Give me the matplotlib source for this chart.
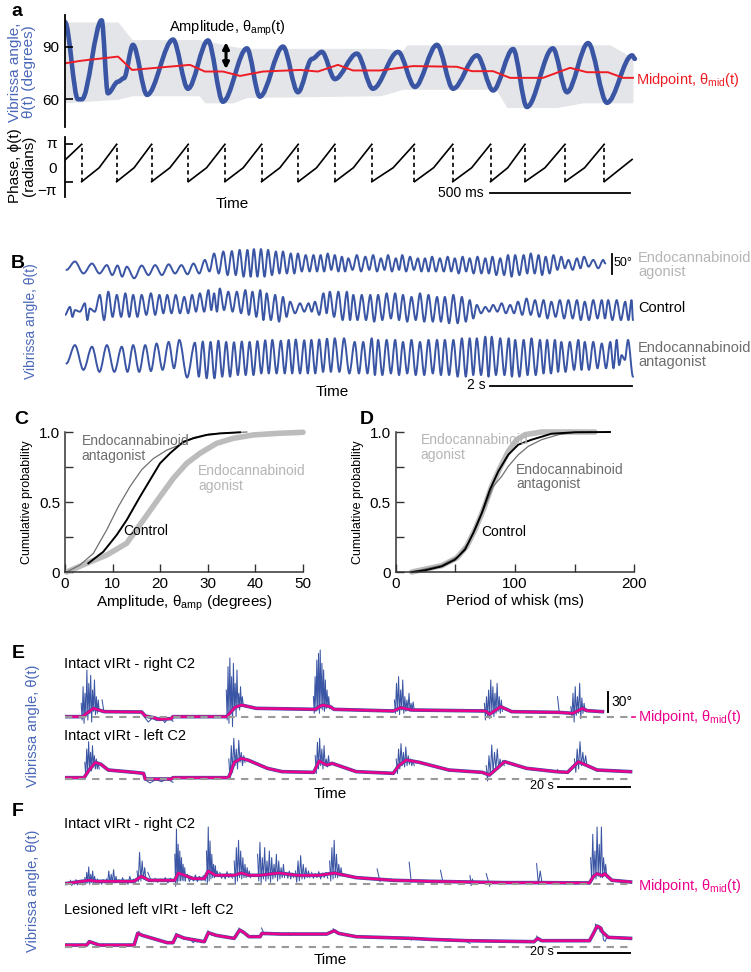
import numpy as np
import matplotlib.pyplot as plt
from matplotlib.path import Path
from matplotlib.patches import PathPatch

plt.rcParams['font.family'] = ['Liberation Sans', 'DejaVu Sans']
plt.rcParams['mathtext.fontset'] = 'custom'
plt.rcParams['mathtext.rm'] = 'Liberation Sans'
plt.rcParams['mathtext.it'] = 'Liberation Sans'

BLUE = '#3a55a4'
LBLUE = '#4a68b8'
RED = '#ee1c24'
MAG = '#ec008c'
DGRAY = '#6d6d6d'
LGRAY = '#b5b5b5'

# ---------------- panel a data (time in ms, angle in degrees) ----------------
theta_t = [0, 46, 60, 130, 152, 188, 209, 241, 291, 383, 436, 507, 560, 645, 691, 773,
           826, 876, 911, 957, 1035, 1092, 1181, 1241, 1319, 1376, 1461, 1518, 1589,
           1638, 1730, 1780, 1855, 1922, 2011, 2021]
theta_v = [104, 60, 60, 105, 63.4, 70, 72, 91, 62.5, 94, 66, 93.5, 58.6, 89, 61.5, 90,
           64, 83, 87, 71.5, 86, 66, 87, 67, 91, 66, 85, 65, 88.6, 55.6, 89, 64, 92, 58,
           85, 83]
mid_t = [0, 60, 188, 238, 443, 496, 560, 621, 702, 833, 897, 968, 1021, 1117, 1234,
         1390, 1443, 1518, 1578, 1695, 1791, 1851, 1925, 1979, 2014]
mid_v = [80.5, 82, 84.3, 76.7, 79.6, 75.8, 75.8, 73.3, 75.8, 76.7, 75.8, 79.6, 76.4,
         76.4, 78.9, 78.5, 76, 76, 72.2, 72.2, 77.9, 75.4, 75.4, 72.2, 72.2]
band_t = [0, 188, 238, 475, 496, 596, 645, 1120, 1198, 1213, 1528, 1567, 1745, 1837,
          1933, 2014]
band_hi = [104, 104, 94, 94, 93.5, 90, 89, 89, 88, 91, 91, 91, 91, 91, 91, 83.5]
band_lo = [58, 60, 62, 62, 58, 58, 61, 62, 65.7, 65.7, 65.7, 55.3, 55.3, 58, 58, 58]
phase_resets = [59, 183, 307, 437, 567, 697, 827, 957, 1088, 1239, 1375, 1509, 1631,
                1773, 1912]
phase_start = 0.5
phase_end = 0.6
phase_end_t = 2011
phase_kink = -0.8

# ---------------- panel B data (time in s, angle in degrees) ----------------
ago_pt = [0.14, 0.38, 0.59, 0.74, 0.87, 1.08, 1.27, 1.46, 1.64, 1.81, 1.97, 2.10, 2.23,
          2.35, 2.46, 2.57, 2.66, 2.76, 2.86, 2.97, 3.07, 3.18, 3.28, 3.39, 3.50, 3.60,
          3.70, 3.80, 3.90, 3.99, 4.11, 4.23, 4.34, 4.45, 4.55, 4.66, 4.75, 4.86, 4.97,
          5.07, 5.17, 5.28, 5.39, 5.49, 5.60, 5.70, 5.81, 5.92, 6.02, 6.13, 6.24, 6.34,
          6.46, 6.56, 6.67, 6.77, 6.88, 6.99, 7.09, 7.21, 7.31, 7.44, 7.58]
ago_pv = [42, 37, 33, 32, 29, 32, 33, 35, 33, 37, 46,
          62, 67, 68, 71, 71, 73, 73, 71, 67, 67, 62, 62, 58, 58, 58, 62, 58, 54, 50,
          58, 54, 58, 50, 58, 50, 58, 54, 50, 50, 54, 50, 54, 50, 54, 50, 54, 50, 54, 50,
          58, 58, 58, 62, 58, 54, 58, 54, 46, 50, 54, 46, 46]
ago_tv = [12, 12, 8, 4, 0, 8, 8, 12, 10, 12, 17,
          12, 8, 8, 4, 4, 4, 4, 8, 12, 12, 12, 17, 17, 17, 17, 21, 17, 17, 21,
          17, 21, 17, 21, 17, 21, 17, 21, 17, 17, 17, 17, 17, 12, 17, 12, 12, 12, 8, 8,
          4, 8, 12, 12, 8, 12, 21, 25, 21, 25, 29, 25]
ago_ends = [(0.02, 21), (7.61, 37)]

ctl_pt = [0.07, 0.14, 0.28, 0.35, 0.49, 0.61, 0.73, 0.85, 0.96, 1.08, 1.21, 1.33, 1.44,
          1.56, 1.68, 1.79, 1.90, 2.02, 2.10, 2.18, 2.30, 2.42, 2.54, 2.64, 2.75, 2.84,
          2.96, 3.07, 3.17, 3.31, 3.43, 3.52, 3.64, 3.73, 3.85, 3.97, 4.06, 4.18, 4.30,
          4.41, 4.53, 4.65, 4.76, 4.88, 5.00, 5.12, 5.24, 5.35, 5.47, 5.59, 5.70, 5.80,
          5.92, 6.03, 6.15, 6.27, 6.38, 6.50, 6.62, 6.74, 6.85, 6.97, 7.09, 7.21, 7.32,
          7.44, 7.56, 7.65, 7.77, 7.89, 7.98]
ctl_pv = [37, 29, 46, 33, 67, 75, 67, 71, 67, 67, 71, 67, 67, 67, 62, 67, 71, 79, 71,
          83, 75, 75, 79, 75, 79, 71, 67, 62, 50, 46, 46, 50, 71, 75, 75, 75,
          67, 67, 67, 67, 71, 71, 67, 62, 71, 67, 62, 62, 67, 62, 54, 42, 37, 42, 46,
          42, 50, 58, 54, 54, 50, 54, 54, 54, 50, 54, 54, 54, 54, 50, 54]
ctl_tv = [12, 25, 4, 25, 4, 12, 12, 12, 12, 17, 17, 21, 21, 21, 21, 25, 25, 29, 25, 29,
          25, 21, 17, 12, 4, 4, 0, 12, 21, 25, 25, 17, 21, 12, 4,
          4,
          4, 4, 0, 4, 8, 4, 0, 4, 0, 0, 0, -4, -4, 0, 8, 21, 25, 25, 21, 21, 17, 17, 12,
          8, 12, 8, 8, 4, 4, 8, 8, 4, 4, 4]
ctl_ends = [(0.0, 17), (8.0, 4)]

ant_pt = [0.14, 0.38, 0.59, 0.80, 0.96, 1.13, 1.29, 1.46, 1.61, 1.83, 1.94, 2.05, 2.16,
          2.27, 2.38, 2.49, 2.60, 2.71, 2.82, 2.92, 3.04, 3.15, 3.25, 3.37, 3.47, 3.58,
          3.69, 3.80, 3.93, 4.08, 4.20, 4.32, 4.41, 4.53, 4.65, 4.76, 4.88, 5.00, 5.12,
          5.24, 5.35, 5.47, 5.59, 5.70, 5.80, 5.92, 6.01, 6.13, 6.25, 6.34, 6.46, 6.57,
          6.69, 6.79, 6.90, 6.99, 7.11, 7.23, 7.32, 7.44, 7.56, 7.68, 7.77, 7.84, 7.93]
ant_pv = [79, 75, 79, 75, 79, 79, 83, 87, 92,
          85, 88, 87, 90, 87, 86, 88, 87, 89, 91, 92, 90, 92, 93, 91, 92, 93, 95, 96,
          96, 87, 87, 96, 92, 92, 92, 87, 92, 87, 92, 92, 92, 92, 96, 96, 96, 100, 100,
          96, 96, 92, 92, 96, 92, 92, 92, 87, 87, 92, 87, 87, 83, 87, 92, 54, 92]
ant_tv = [17, 12, 12, 12, 12, 14, 17, 21,
          -2,
          0, -4, -4, 0, 0, 4, 4, 4, 8, 8, 8, 8, 8, 8, 8, 8, 12, 12,
          12,
          8, 8, 8, 4, 4, 8, 4, 8, 4, 4, 8, 4, 4, 0, 0, 4, 4, 0, 4, 4, 0, 0, 4, 4, 8, 8,
          12, 12, 17, 17, 17, 21, 21, 21, 29, 42]
ant_ends = [(0.02, 33), (8.0, 0)]

# ---------------- panels C, D data (cumulative probability) ----------------
amp_ant_x = [0.35, 3.15, 5.95, 8.75, 11.2, 13.65, 16.1, 18.55, 21.36, 24.2, 26.96, 30.5, 38.2]
amp_ant_p = [0, 0.05, 0.133, 0.30, 0.467, 0.61, 0.73, 0.81, 0.87, 0.91, 0.96, 0.986, 1.0]
amp_ctl_x = [4.9, 8.05, 10.85, 12.96, 15.76, 17.86, 19.96, 22.06, 24.85, 26.96, 29.76,
             32.56, 36.76]
amp_ctl_p = [0.062, 0.145, 0.264, 0.371, 0.538, 0.657, 0.776, 0.848, 0.93, 0.955, 0.979,
             0.99, 0.998]
amp_ago_x = [0.35, 4.55, 8.75, 12.96, 16.46, 19.96, 22.76, 25.56, 28.36, 31.86, 35.36,
             39.56, 44.5, 50]
amp_ago_p = [0, 0.062, 0.121, 0.205, 0.371, 0.538, 0.669, 0.776, 0.848, 0.919, 0.955,
             0.979, 0.99, 0.998]

per_ctl_x = [13.4, 24.6, 38.5, 49.7, 58.1, 65.1, 72.1, 79, 86, 94.4, 102.8, 114, 130.7,
             150.3, 179.6]
per_ctl_p = [0, 0.012, 0.04, 0.088, 0.16, 0.28, 0.42, 0.588, 0.719, 0.838, 0.91, 0.945,
             0.988, 0.998, 1.0]
per_ago_x = [13.4, 38.5, 51.1, 59.5, 66.5, 73.5, 80.4, 87.4, 94.4, 101.4, 108.4, 122.3, 167]
per_ago_p = [0, 0.045, 0.1, 0.183, 0.302, 0.445, 0.612, 0.743, 0.862, 0.945, 0.981, 1.0, 1.0]
per_ant_x = [13.4, 38.5, 52.5, 60.9, 67.9, 74.9, 81.8, 88.8, 94.4, 102.8, 111.2, 122.3,
             136.3, 150.3, 164.2]
per_ant_p = [0, 0.048, 0.112, 0.207, 0.326, 0.469, 0.612, 0.683, 0.755, 0.838, 0.898,
             0.945, 0.981, 0.998, 1.0]

# ---------------- panels E, F data (time in s, degrees above baseline) ----------------
e1_mid_t = [0, 4.8, 5.8, 7.9, 10.9, 21.3, 22.3, 25, 26, 29.5, 30, 44.9, 45.4, 47.2, 49,
            53.1, 69.6, 70.6, 71.6, 73.7, 74.7, 91.2, 93.2, 96.4, 116.9, 117.9, 121,
            124.1, 137, 141.1, 143.7, 145, 149.3]
e1_mid_v = [0, 0, 4, 12.5, 7.5, 7, 1, -2, -4, -3, 0, 0, 3, 14, 17.5, 12.5, 11, 15, 17.5,
            15, 11, 8.5, 13.5, 10, 8.5, 3.5, 15, 7.5, 6.5, 5, 12.5, 9, 7.5]
e1_bursts = [
    (4.5, 9.5, [20, 45, 35, 70, 50, 62, 40, 55, 30, 25], [-5, -10, 0, -5, 5, -8, 8, 3, 5, 8]),
    (10.3, 10.8, [25], [8]),
    (22.0, 30.0, [0, -2, 0, -1], [-8, -6, -9, -7]),
    (44.8, 49.5, [40, 75, 88, 60, 80, 50, 70, 35, 45, 30], [-5, -10, 5, -15, 10, 0, 15, 10, 15, 18]),
    (69.0, 73.5, [30, 60, 85, 95, 100, 80, 70, 55, 40, 30], [5, 8, 10, 5, 12, 10, 8, 12, 15, 12]),
    (91.5, 97.0, [25, 50, 60, 40, 55, 30, 25, 35, 20, 22], [5, 8, 3, 10, 5, 8, 10, 8, 10, 10]),
    (116.5, 121.5, [20, 30, 40, 55, 45, 35, 50, 30, 25], [-5, 0, -3, 5, 0, 5, 8, 5, 8]),
    (136.8, 137.3, [30], [6]),
    (140.5, 144.5, [15, 35, 45, 30, 50, 28, 20], [0, -8, 2, 5, -3, 5, 8]),
]
e2_mid_t = [0, 5.3, 6.5, 8.4, 10, 12, 19.2, 21.8, 22.3, 29.5, 30, 45.4, 45.9, 47, 49, 51,
            56.2, 60.3, 69.1, 70.6, 72.7, 74.2, 80.9, 91.2, 92.7, 94.8, 98.4, 106.6,
            115.9, 117.9, 122.1, 128.2, 136.5, 139.6, 142.6, 147.8, 157.1]
e2_mid_v = [2, 2, 12, 25, 22, 13.5, 10, 8.5, 0, 0, 2, 2, 8, 25, 31, 28, 16, 11, 10, 27,
            21, 23.5, 11, 8.5, 20, 28.5, 25, 13.5, 10, 6, 26, 16, 11, 10, 26, 13.5, 11]
e2_bursts = [
    (5.5, 9.5, [25, 45, 56, 40, 50, 35, 30, 25], [5, 10, 15, 12, 18, 15, 15, 15]),
    (22.0, 30.0, [0, -1, 0], [-6, -4, -5]),
    (45.5, 50.0, [30, 50, 61, 45, 58, 40, 35], [0, 10, 20, 15, 25, 20, 25]),
    (69.5, 73.5, [35, 55, 61, 45, 50, 30, 35], [8, 15, 20, 15, 20, 18, 20]),
    (92.0, 97.0, [30, 45, 53, 40, 48, 35, 30, 28], [8, 15, 20, 18, 20, 22, 20, 20]),
    (117.0, 122.0, [20, 35, 51, 40, 45, 30, 28], [-3, 5, 10, 15, 15, 20, 20]),
    (136.8, 137.3, [14], [10]),
    (141.5, 145.0, [30, 45, 56, 40, 35], [10, 15, 20, 20, 20]),
]
f1_mid_t = [0, 6.8, 8.9, 19.2, 21.2, 23.3, 30.5, 31.5, 35.6, 38.7, 39.8, 41.8, 47, 49,
            51.1, 54.2, 59.3, 64.4, 70.6, 74.8, 80.9, 91.2, 101.5, 111.8, 122.1, 132.4,
            145.7, 146.8, 147.8, 149.3, 149.9, 151.9, 157.1]
f1_mid_v = [1, 6, 4.5, 4.5, 12, 6, 6, 17, 8.5, 8.5, 20, 13.5, 13.5, 17, 13.5, 13.5, 17,
            13.5, 13.5, 17, 10, 6, 4.5, 3.5, 2.5, 2.5, 2, 12, 16, 13, 16, 6, 3.5]
f1_bursts = [
    (1.5, 5.0, [6, 4, 7, 3, 6], [-2, 0, -1, 0, -1]),
    (5.5, 8.5, [10, 18, 26, 15, 20, 12], [0, 2, 0, 3, 2, 3]),
    (9.0, 11.0, [8, 5, 7], [1, 0, 2]),
    (11.5, 14.5, [8, 20, 15, 22, 12], [2, 1, 3, 2, 3]),
    (15.0, 19.5, [7, 10, 6, 12, 8], [1, 2, 0, 2, 2]),
    (20.0, 22.5, [20, 48, 35, 25], [4, 5, 8, 6]),
    (23.0, 24.0, [18], [4]),
    (25.0, 30.0, [9, 8, 10, 9], [3, 4, 2, 4]),
    (30.5, 33.5, [45, 83, 60, 50, 40, 30, 25], [-3, 0, 5, 5, 6, 5, 5]),
    (34.0, 39.0, [15, 12, 14, 12, 13], [4, 5, 4, 6, 5]),
    (39.3, 42.5, [50, 86, 65, 45, 30, 28, 20], [0, 5, 8, 10, 10, 12, 12]),
    (43.0, 46.5, [18, 15, 19, 16], [9, 8, 10, 9]),
    (47.0, 51.5, [35, 55, 66, 50, 40, 30, 25, 20], [0, 5, 10, 8, 10, 10, 12, 10]),
    (53.5, 61.0, [45, 63, 40, 55, 35, 50, 40, 30, 45, 35, 25, 30], [5, 2, 8, 5, 8, 3, 8, 10, 5, 8, 10, 10]),
    (61.5, 63.5, [18, 20, 17], [9, 8, 10]),
    (64.0, 68.0, [20, 35, 43, 30, 25, 20], [3, 5, 8, 8, 10, 10]),
    (68.5, 73.0, [18, 16, 19, 17, 18], [9, 10, 8, 10, 9]),
    (73.5, 77.0, [35, 55, 66, 45, 30, 25], [5, 8, 10, 10, 12, 12]),
    (86.7, 87.5, [23], [4]),
    (95.6, 96.2, [33], [3]),
    (104.3, 105.0, [21], [3]),
    (112.5, 113.5, [13, 8], [-2, 0]),
    (117.0, 118.0, [16], [-3]),
    (131.0, 132.5, [31, 20], [0, 2]),
    (146.0, 150.5, [40, 75, 50, 86, 60, 86, 40, 30], [5, 10, 8, 12, 10, 10, 15, 10]),
]
f2_mid_t = [0, 6, 6.8, 9.5, 19.2, 20.2, 21.5, 28.4, 30, 31, 33, 38.7, 39.8, 42, 47, 48.5,
            49.5, 51.1, 54.2, 54.7, 60, 72.7, 74.8, 76, 80.9, 96.4, 101.5, 111.8, 130.3,
            131.3, 132.4, 145.7, 146.8, 147.8, 148.8, 149.3, 150.9, 157.1]
f2_mid_v = [2.5, 2.5, 7.5, 2.5, 2.5, 20, 17, 6, 6, 17.5, 13, 7.5, 21, 17, 12.5, 25, 22,
            15, 15, 20, 19, 19, 24, 20, 15, 12.5, 11, 9, 7.5, 12.5, 9, 9, 20, 31, 28, 22,
            14, 12.5]
f2_bursts = [
    (6.5, 7.2, [9], [5]),
    (20.5, 21.3, [23], [16]),
    (30.8, 31.6, [20], [15]),
    (35.0, 38.0, [10, 9, 11], [6, 7, 6]),
    (39.7, 40.6, [24], [18]),
    (48.3, 49.0, [28], [21]),
    (54.6, 55.4, [28], [18]),
    (62.0, 62.6, [21], [17]),
    (74.5, 75.5, [27], [20]),
    (95.5, 96.2, [14], [10]),
    (111.0, 112.5, [9], [5]),
    (131.0, 131.8, [16], [9]),
    (147.3, 150.5, [34, 30, 28, 8], [26, 22, 10, 14]),
]

# ---------------- figure ----------------
W, H = 751, 972
fig = plt.figure(figsize=(W / 100, H / 100), dpi=100)


def px_axes(l, t, r, b):
    ax = fig.add_axes([l / W, 1 - b / H, (r - l) / W, (b - t) / H])
    ax.patch.set_alpha(0)
    return ax


def ftext(x, y, s, **kw):
    kw.setdefault('va', 'center')
    return fig.text(x / W, 1 - y / H, s, **kw)


def bare(ax):
    for sp in ax.spines.values():
        sp.set_visible(False)
    ax.set_xticks([])
    ax.set_yticks([])


def zigzag(t, peaks, troughs, ends):
    tt = [ends[0][0]]
    vv = [ends[0][1]]
    for i, p in enumerate(peaks):
        tt.append(t[i])
        vv.append(p)
        if i < len(troughs):
            tt.append(0.5 * (t[i] + t[i + 1]))
            vv.append(troughs[i])
    tt.append(ends[1][0])
    vv.append(ends[1][1])
    return np.array(tt), np.array(vv)


def smooth_patch(t, v, **kw):
    # bezier through the turning points, flat tangent at each one
    verts = [(t[0], v[0])]
    codes = [Path.MOVETO]
    for i in range(len(t) - 1):
        dt = t[i + 1] - t[i]
        verts += [(t[i] + dt / 3, v[i]), (t[i + 1] - dt / 3, v[i + 1]), (t[i + 1], v[i + 1])]
        codes += [Path.CURVE4] * 3
    return PathPatch(Path(verts, codes), fill=False, capstyle='round', joinstyle='round', **kw)


def burst_line(b, offset):
    t0, t1, pk, tr = b
    vals = []
    for p, q in zip(pk, tr):
        vals += [p, q]
    ts = np.linspace(t0, t1, len(vals))
    return ts, np.array(vals) + offset


# ----- panel a: angle -----
ms_per_px = 500 / 141
ax = px_axes(65, 15, 640, 127)
ax.fill_between(band_t, band_lo, band_hi, color='#e3e5e8', lw=0)
ax.add_patch(smooth_patch(theta_t, theta_v, ec=BLUE, lw=3.3))
ax.plot(mid_t, mid_v, color=RED, lw=1.4)
ax.annotate('', xy=(571, 92.5), xytext=(571, 77.2),
            arrowprops=dict(arrowstyle='<|-|>', color='k', lw=2.2, mutation_scale=9,
                            shrinkA=0, shrinkB=0))
ax.set_xlim(0, 575 * ms_per_px)
ax.set_ylim(44.2, 108)
for s in ['top', 'right', 'bottom']:
    ax.spines[s].set_visible(False)
ax.spines['left'].set_linewidth(1.3)
ax.set_xticks([])
ax.set_yticks([60, 90])
ax.tick_params(axis='y', direction='in', length=6, width=1.2, labelsize=11, pad=4)
ftext(227, 28, 'Amplitude, θ$_{\\mathrm{amp}}$(t)', ha='center', fontsize=10.5)
ftext(636, 80, 'Midpoint, θ$_{\\mathrm{mid}}$(t)', ha='left', fontsize=10.5, color=RED)
ftext(22, 72, 'Vibrissa angle,\nθ(t) (degrees)', ha='center', rotation=90,
      fontsize=11, color=LBLUE, linespacing=1.0)

# ----- panel a: phase -----
axp = px_axes(65, 137, 640, 197)
axp.plot([0, phase_resets[0]], [phase_start, np.pi], color='k', lw=1.2)
for a0, a1 in zip(phase_resets[:-1], phase_resets[1:]):
    axp.plot([a0, 0.5 * (a0 + a1), a1], [-np.pi, phase_kink, np.pi], color='k', lw=1.2)
axp.plot([phase_resets[-1], phase_end_t], [-np.pi, phase_end], color='k', lw=1.2)
axp.vlines(phase_resets, -np.pi, np.pi, colors='k', lw=1.2, linestyles=(0, (2.5, 2)))
axp.set_xlim(0, 575 * ms_per_px)
axp.set_ylim(-5.71, 4.37)
for s in ['top', 'right', 'bottom']:
    axp.spines[s].set_visible(False)
axp.spines['left'].set_linewidth(1.3)
axp.set_xticks([])
axp.set_yticks([np.pi, -np.pi])
axp.set_yticklabels([])
axp.tick_params(axis='y', direction='in', length=6, width=1.2)
ftext(57, 144, 'π', ha='right', fontsize=11)
ftext(57, 169, '0', ha='right', fontsize=11)
ftext(57, 191, '−π', ha='right', fontsize=11)
axp.plot([(490 - 65) * ms_per_px, (630 - 65) * ms_per_px], [-5.04, -5.04], color='k',
         lw=1.3, clip_on=False)
ftext(484, 193, '500 ms', ha='right', fontsize=10)
ftext(232, 204, 'Time', ha='center', fontsize=11)
ftext(22, 166, 'Phase, ϕ(t)\n(radians)', ha='center', rotation=90, fontsize=11,
      linespacing=1.0)
ftext(11, 11, 'a', fontsize=14, fontweight='bold')

# ----- panel B -----
axb = px_axes(65, 248, 640, 385)
for pt, pv, tv, ends, off in [(ago_pt, ago_pv, ago_tv, ago_ends, 246),
                               (ctl_pt, ctl_pv, ctl_tv, ctl_ends, 137.5),
                               (ant_pt, ant_pv, ant_tv, ant_ends, 0)]:
    tt, vv = zigzag(pt, pv, tv, ends)
    axb.add_patch(smooth_patch(tt, vv + off, ec=BLUE, lw=1.4))
axb.set_xlim(0, 575 / 71)
axb.set_ylim(-20.75, 321.75)
bare(axb)
axb.plot([(612 - 65) / 71] * 2, [258, 308], color='k', lw=1.3)
ftext(614, 263, '50°', ha='left', fontsize=9)
axb.plot([(490 - 65) / 71, (632 - 65) / 71], [-23, -23], color='k', lw=1.3,
         clip_on=False)
ftext(486, 385, '2 s', ha='right', fontsize=10)
ftext(332, 392, 'Time', ha='center', fontsize=11)
ftext(638, 265, 'Endocannabinoid\nagonist', ha='left', fontsize=10.5, color=LGRAY,
      linespacing=1.05)
ftext(638, 308, 'Control', ha='left', fontsize=10.5)
ftext(638, 355, 'Endocannabinoid\nantagonist', ha='left', fontsize=10.5, color=DGRAY,
      linespacing=1.05)
ftext(31, 321, 'Vibrissa angle, θ(t)', ha='center', rotation=90, fontsize=10,
      color=LBLUE)
ftext(11, 264, 'B', fontsize=14, fontweight='bold')


# ----- panels C and D -----
def cdf_axes(l, r):
    a = px_axes(l, 432, r, 572)
    a.set_ylim(0, 1)
    a.spines['top'].set_visible(False)
    a.spines['right'].set_visible(False)
    for s in ['left', 'bottom']:
        a.spines[s].set_color('#333333')
        a.spines[s].set_linewidth(1.1)
    a.set_yticks([0, 0.5, 1.0])
    a.set_yticklabels(['0', '0.5', '1.0'])
    a.set_yticks([0.25, 0.75], minor=True)
    a.tick_params(which='both', direction='in', length=6, width=1, labelsize=11,
                  color='#333333')
    a.set_ylabel('Cumulative probability', fontsize=9, labelpad=4)
    return a


axc = cdf_axes(65, 303)
axc.plot(amp_ago_x, amp_ago_p, color='#bcbcbc', lw=4, clip_on=False,
         solid_capstyle='round')
axc.plot(amp_ant_x, amp_ant_p, color='#707070', lw=0.9, clip_on=False)
axc.plot(amp_ctl_x, amp_ctl_p, color='k', lw=1.4, clip_on=False)
axc.set_xlim(0, 50)
axc.set_xticks([0, 10, 20, 30, 40, 50])
axc.text(3.5, 0.985, 'Endocannabinoid\nantagonist', color=DGRAY, fontsize=10, va='top',
         linespacing=1.05)
axc.text(28, 0.77, 'Endocannabinoid\nagonist', color=LGRAY, fontsize=10, va='top',
         linespacing=1.05)
axc.text(12.3, 0.29, 'Control', color='k', fontsize=10, va='center')
axc.set_xlabel('Amplitude, θ$_{\\mathrm{amp}}$ (degrees)', fontsize=11, labelpad=2)
ftext(14, 419, 'C', fontsize=14, fontweight='bold')

axd = cdf_axes(395.7, 634.3)
axd.plot(per_ago_x, per_ago_p, color='#bcbcbc', lw=4, clip_on=False,
         solid_capstyle='round')
axd.plot(per_ant_x, per_ant_p, color='#707070', lw=0.9, clip_on=False)
axd.plot(per_ctl_x, per_ctl_p, color='k', lw=1.4, clip_on=False)
axd.set_xlim(0, 200)
axd.set_xticks([0, 100, 200])
axd.set_xticks([50, 150], minor=True)
axd.text(21, 0.99, 'Endocannabinoid\nagonist', color=LGRAY, fontsize=10, va='top',
         linespacing=1.05)
axd.text(101, 0.78, 'Endocannabinoid\nantagonist', color=DGRAY, fontsize=10, va='top',
         linespacing=1.05)
axd.text(72, 0.286, 'Control', color='k', fontsize=10, va='center')
axd.set_xlabel('Period of whisk (ms)', fontsize=11, labelpad=2)
ftext(360, 419, 'D', fontsize=14, fontweight='bold')


# ----- panels E and F -----
def trace_panel(top, bottom, base_px, bar_px, traces, labels, midlabel_y, ylab_y,
                scalebar):
    a = px_axes(65, top, 640, bottom)
    for mt, mv, bursts, off in traces:
        a.plot(mt, np.array(mv) + off, color=BLUE, lw=2.6, solid_joinstyle='round')
        for b in bursts:
            ts, vs = burst_line(b, off)
            a.plot(ts, vs, color=BLUE, lw=0.75)
        a.plot(mt, np.array(mv) + off, color=MAG, lw=1.8, solid_joinstyle='round')
        a.plot([0, 157], [off, off], color='#999999', lw=1.5, ls=(0, (3.5, 3)))
    a.set_xlim(0, 575 / 3.6)
    a.set_ylim(-(bottom - base_px) * 1.5, (base_px - top) * 1.5)
    bare(a)
    if scalebar:
        a.plot([(608 - 65) / 3.6] * 2, [traces[0][3] + 7, traces[0][3] + 37], color='k',
               lw=1.4)
        ftext(611, 702, '30°', ha='left', fontsize=10)
        a.plot([(632 - 65) / 3.6, (635 - 65) / 3.6], [traces[0][3]] * 2, color=MAG,
               lw=1.2, clip_on=False)
    bar_y = -(bar_px - base_px) * 1.5
    a.plot([(558 - 65) / 3.6, (630 - 65) / 3.6], [bar_y, bar_y], color='k', lw=1.4,
           clip_on=False)
    ftext(554, bar_px - 1, '20 s', ha='right', fontsize=9)
    ftext(330, bar_px + 7, 'Time', ha='center', fontsize=11)
    for (lx, ly, s) in labels:
        ftext(lx, ly, s, ha='left', fontsize=10.5)
    ftext(638, midlabel_y, 'Midpoint, θ$_{\\mathrm{mid}}$(t)', ha='left', fontsize=10.5,
          color=MAG)
    ftext(33, ylab_y, 'Vibrissa angle, θ(t)', ha='center', rotation=90, fontsize=10.5,
          color=LBLUE)
    return a


axe = trace_panel(645, 792, 779, 787,
                  [(e1_mid_t, e1_mid_v, e1_bursts, 93.5),
                   (e2_mid_t, e2_mid_v, e2_bursts, 0)],
                  [(64, 664, 'Intact vIRt - right C2'), (64, 736, 'Intact vIRt - left C2')],
                  717, 726, True)
ftext(12, 653, 'E', fontsize=14, fontweight='bold')

axf = trace_panel(812, 957, 946.7, 953,
                  [(f1_mid_t, f1_mid_v, f1_bursts, 93.6),
                   (f2_mid_t, f2_mid_v, f2_bursts, 0)],
                  [(64, 824, 'Intact vIRt - right C2'),
                   (64, 910, 'Lesioned left vIRt - left C2')],
                  886, 891, False)
ftext(12, 812, 'F', fontsize=14, fontweight='bold')

fig.savefig('out.png', dpi=100)
